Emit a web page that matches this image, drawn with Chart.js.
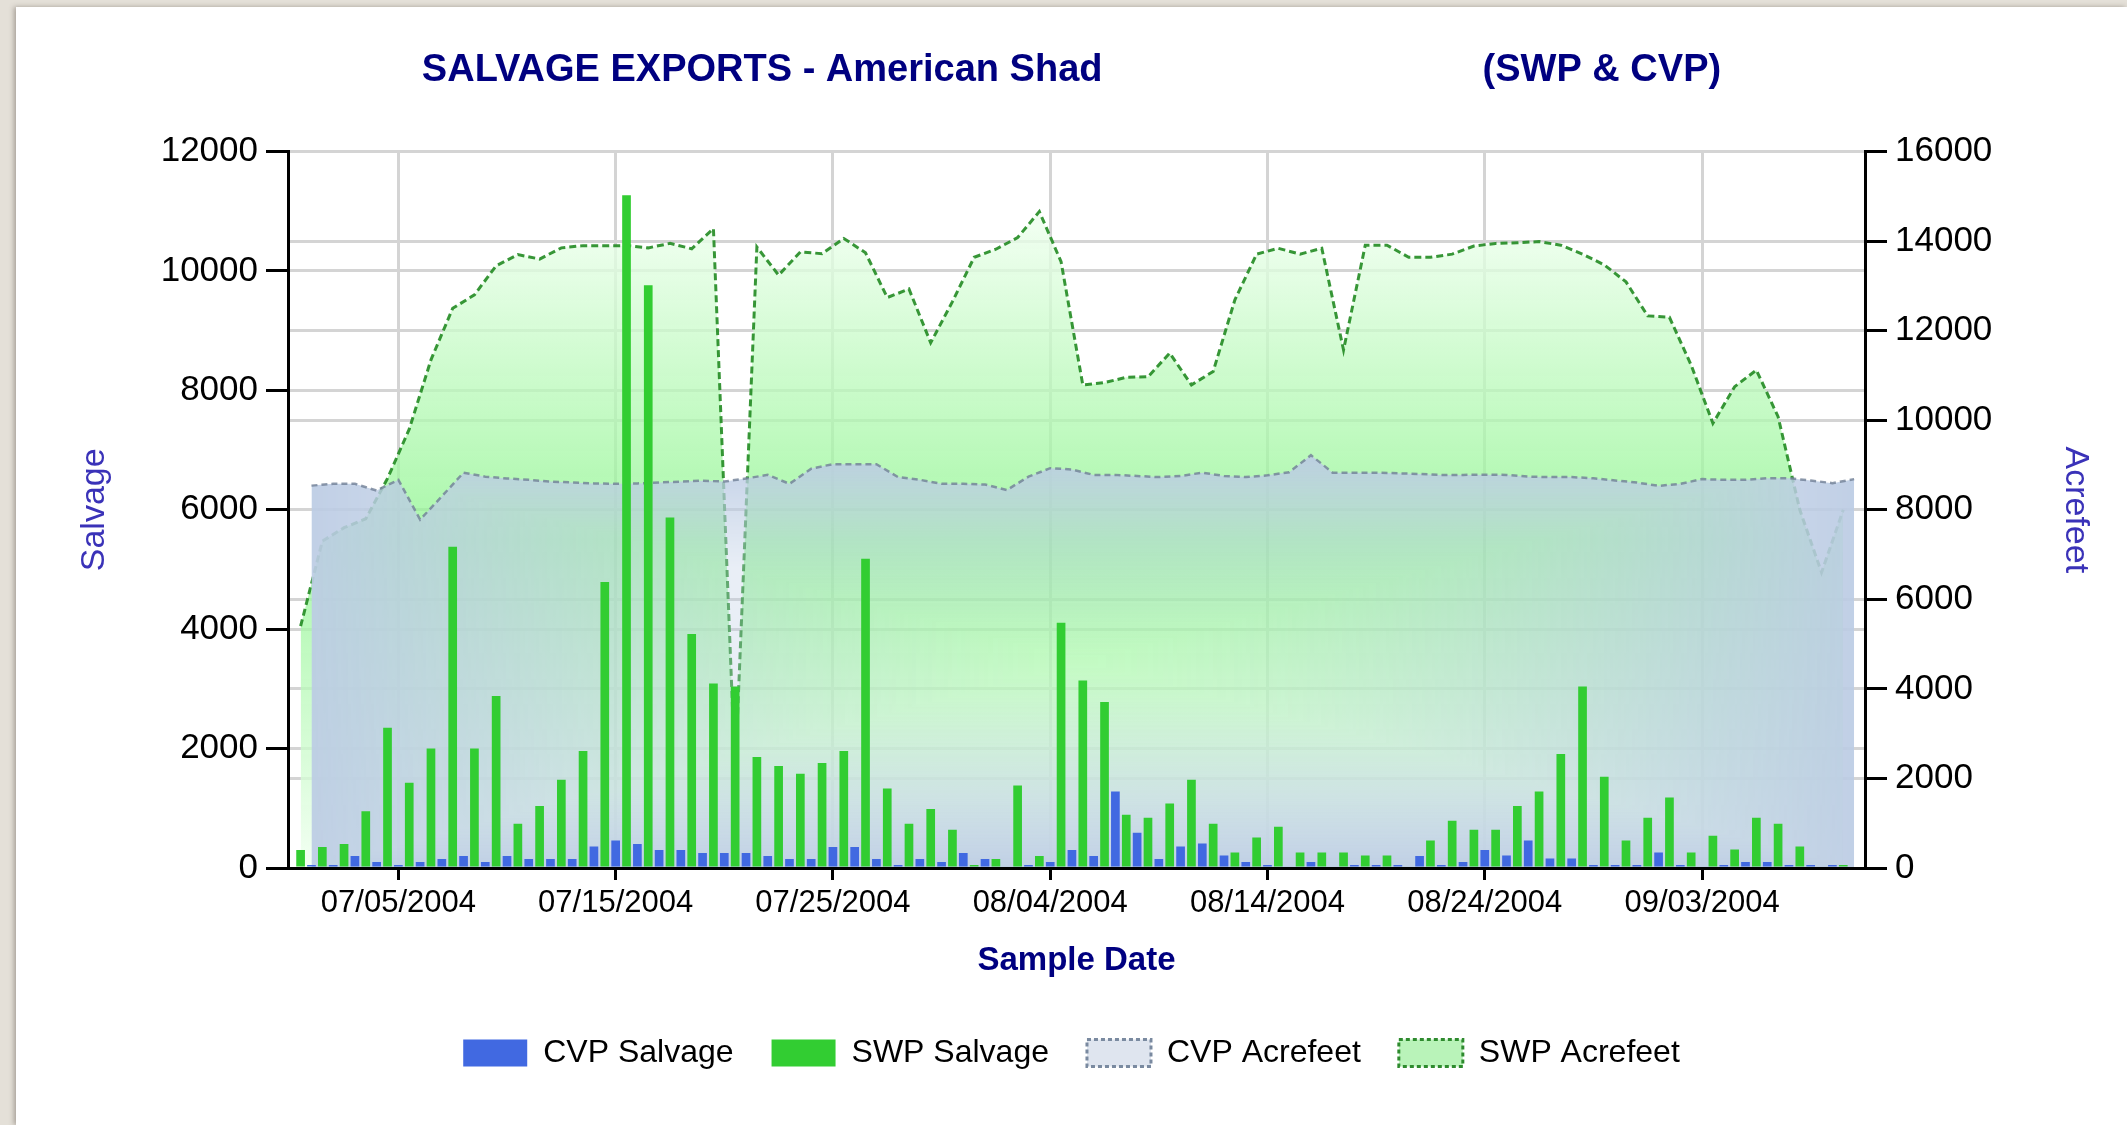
<!DOCTYPE html>
<html>
<head>
<meta charset="utf-8">
<title>Salvage Exports - American Shad</title>
<script src="https://cdn.jsdelivr.net/npm/chart.js@4.4.1/dist/chart.umd.min.js"></script>
<style>
  html, body { margin: 0; padding: 0; }
  body { width: 2127px; height: 1125px; background: #e4e0d8; position: relative; overflow: hidden; }
  #panel { position: absolute; left: 16px; top: 7px; width: 2111px; height: 1118px; background: #fff;
           box-shadow: -2px 0 5px rgba(90, 80, 70, 0.45); }
  canvas { display: block; }
</style>
</head>
<body>
<div id="panel"><canvas id="chart" width="2111" height="1118"></canvas></div>
<script>
// daily samples, index 0 = 07/01/2004 ... index 71 = 09/10/2004
var xTickIndex = [4, 14, 24, 34, 44, 54, 64];
var xTickLabels = ['07/05/2004', '07/15/2004', '07/25/2004', '08/04/2004', '08/14/2004', '08/24/2004', '09/03/2004'];

var cvpSalvage = [50, 50, 200, 100, 50, 100, 150, 200, 100, 200,
                  150, 150, 150, 360, 460, 400, 300, 300, 250, 250,
                  250, 200, 150, 150, 350, 350, 150, 50, 150, 100,
                  250, 150, 0, 50, 100, 300, 200, 1280, 590, 150,
                  360, 410, 210, 100, 50, 0, 100, 0, 50, 50,
                  50, 200, 50, 100, 300, 210, 460, 160, 160, 50,
                  50, 50, 260, 50, 0, 50, 100, 100, 50, 50,
                  50, 0];
var swpSalvage = [300, 350, 400, 950, 2350, 1430, 2000, 5380, 2000, 2880,
                  740, 1040, 1480, 1960, 4790, 11270, 9760, 5870, 3920, 3090,
                  3040, 1860, 1710, 1580, 1760, 1960, 5180, 1330, 740, 990,
                  640, 50, 150, 1380, 200, 4110, 3140, 2780, 890, 840,
                  1080, 1480, 740, 260, 510, 690, 260, 260, 260, 210,
                  210, 0, 460, 790, 640, 640, 1040, 1280, 1910, 3040,
                  1530, 460, 840, 1180, 260, 540, 310, 840, 740, 360,
                  0, 50];
var cvpAcrefeet = [8540, 8580, 8580, 8430, 8670, 7780, 8300, 8830, 8740, 8700,
                   8670, 8630, 8610, 8590, 8580, 8590, 8610, 8630, 8650, 8630,
                   8700, 8780, 8580, 8920, 9020, 9020, 9020, 8730, 8670, 8580,
                   8580, 8565, 8440, 8740, 8930, 8900, 8780, 8780, 8755, 8730,
                   8755, 8830, 8755, 8730, 8770, 8840, 9220, 8830, 8830, 8830,
                   8815, 8800, 8780, 8780, 8785, 8780, 8740, 8730, 8730, 8705,
                   8655, 8610, 8535, 8580, 8685, 8670, 8670, 8705, 8705, 8655,
                   8595, 8685];
var swpAcrefeet = [5400, 7300, 7600, 7800, 8700, 9800, 11350, 12500, 12800, 13450,
                   13700, 13600, 13850, 13900, 13900, 13900, 13850, 13950, 13830, 14280,
                   2100, 13870, 13240, 13760, 13720, 14060, 13740, 12740, 12930, 11730,
                   12650, 13640, 13820, 14080, 14660, 13540, 10790, 10840, 10960, 10970,
                   11500, 10790, 11090, 12690, 13710, 13840, 13710, 13840, 11570, 13910,
                   13910, 13640, 13640, 13710, 13890, 13950, 13965, 13990, 13910, 13710,
                   13470, 13090, 12330, 12300, 11230, 9930, 10750, 11120, 10080, 8000,
                   6600, 8000];
// SWP samples are plotted half a day ahead of the CVP ones
var swpShift = -0.5;

var titleLeft = 'SALVAGE EXPORTS - American Shad';
var titleRight = '(SWP & CVP)';

var FONT = "'Liberation Sans', Arial, sans-serif";
Chart.defaults.font.family = FONT;
Chart.defaults.color = '#000';

function toPoints(values, shift) {
  return values.map(function (v, i) { return { x: i + shift, y: v }; });
}

// CVP area: rectangular "center" gradient, clear in the middle, steel blue at the edges
var cvpCache = {};
function cvpFill(context) {
  var chart = context.chart;
  if (!chart.chartArea) return 'rgba(188,204,228,0.6)';
  var xs = chart.scales.x, ys = chart.scales.y1;
  var x0 = xs.getPixelForValue(0), x1 = xs.getPixelForValue(cvpAcrefeet.length - 1);
  var y0 = ys.getPixelForValue(Math.max.apply(null, cvpAcrefeet)), y1 = ys.getPixelForValue(0);
  var w = chart.width, h = chart.height;
  var key = [x0, x1, y0, y1, w, h].join(',');
  if (cvpCache.key === key) return cvpCache.pattern;
  var off = document.createElement('canvas');
  off.width = w; off.height = h;
  var octx = off.getContext('2d');
  var img = octx.createImageData(w, h);
  var d = img.data;
  var cx = (x0 + x1) / 2, cy = (y0 + y1) / 2, rx = (x1 - x0) / 2, ry = (y1 - y0) / 2;
  for (var y = 0; y < h; y++) {
    var ty = Math.abs(y + 0.5 - cy) / ry;
    for (var x = 0; x < w; x++) {
      var t = Math.max(Math.abs(x + 0.5 - cx) / rx, ty);
      if (t > 1) t = 1;
      var k = (y * w + x) * 4;
      d[k] = 188; d[k + 1] = 204; d[k + 2] = 228;
      d[k + 3] = Math.round(255 * 0.93 * Math.pow(t, 1.3));
    }
  }
  octx.putImageData(img, 0, 0);
  cvpCache = { key: key, pattern: chart.ctx.createPattern(off, 'no-repeat') };
  return cvpCache.pattern;
}

// SWP area: horizontal-center gradient, green in the middle, pale at top and bottom
var swpCache = {};
function swpFill(context) {
  var chart = context.chart;
  if (!chart.chartArea) return 'rgba(150,245,150,0.7)';
  var ys = chart.scales.y1;
  var top = ys.getPixelForValue(Math.max.apply(null, swpAcrefeet)), bottom = ys.getPixelForValue(0);
  var key = top + ',' + bottom;
  if (swpCache.key === key) return swpCache.g;
  var g = chart.ctx.createLinearGradient(0, top, 0, bottom);
  g.addColorStop(0, 'rgba(240,255,240,0.8)');
  g.addColorStop(0.5, 'rgba(140,245,140,0.75)');
  g.addColorStop(1, 'rgba(240,255,240,0.8)');
  swpCache = { key: key, g: g };
  return g;
}

var legendStyles = {
  'CVP Salvage': { fill: '#4169e1', stroke: '#4169e1', width: 0, dash: [] },
  'SWP Salvage': { fill: '#32cd32', stroke: '#32cd32', width: 0, dash: [] },
  'CVP Acrefeet': { fill: '#dfe5ef', stroke: '#7a8aa0', width: 3, dash: [4, 3] },
  'SWP Acrefeet': { fill: '#b9f3b9', stroke: '#2e8b2e', width: 3, dash: [4, 3] }
};

function plainNumber(v) { return String(v); }

new Chart(document.getElementById('chart'), {
  type: 'bar',
  data: {
    datasets: [
      { type: 'bar', label: 'CVP Salvage', data: toPoints(cvpSalvage, 0), yAxisID: 'y', order: 0,
        backgroundColor: '#4169e1', grouped: false, categoryPercentage: 1, barPercentage: 0.8 },
      { type: 'bar', label: 'SWP Salvage', data: toPoints(swpSalvage, swpShift), yAxisID: 'y', order: 1,
        backgroundColor: '#32cd32', grouped: false, categoryPercentage: 1, barPercentage: 0.8 },
      { type: 'line', label: 'CVP Acrefeet', data: toPoints(cvpAcrefeet, 0), yAxisID: 'y1', order: 2,
        fill: 'origin', backgroundColor: cvpFill, borderColor: 'rgba(112,128,150,0.8)',
        borderWidth: 2.5, borderDash: [6, 4], pointRadius: 0, tension: 0 },
      { type: 'line', label: 'SWP Acrefeet', data: toPoints(swpAcrefeet, swpShift), yAxisID: 'y1', order: 3,
        fill: 'origin', backgroundColor: swpFill, borderColor: 'rgba(34,139,34,0.9)',
        borderWidth: 3, borderDash: [7, 4], pointRadius: 0, tension: 0 }
    ]
  },
  options: {
    responsive: false,
    animation: false,
    events: [],
    layout: { padding: { left: 0, right: 0, top: 0, bottom: 46 } },
    plugins: {
      tooltip: { enabled: false },
      title: {
        display: true,
        text: titleLeft + new Array(37).join(' ') + titleRight,
        color: '#000080',
        font: { size: 38, weight: 'bold' },
        padding: { top: 41, bottom: 58 }
      },
      legend: {
        position: 'bottom',
        labels: {
          font: { size: 32 }, color: '#000', boxWidth: 64, boxHeight: 27, padding: 38,
          generateLabels: function (chart) {
            var items = Chart.defaults.plugins.legend.labels.generateLabels(chart);
            items.forEach(function (it) {
              var s = legendStyles[it.text];
              it.fillStyle = s.fill; it.strokeStyle = s.stroke; it.lineWidth = s.width; it.lineDash = s.dash;
            });
            return items;
          }
        }
      }
    },
    scales: {
      x: {
        type: 'linear', min: -1.08, max: 71.5, offset: false,
        afterBuildTicks: function (s) { s.ticks = xTickIndex.map(function (v) { return { value: v }; }); },
        afterFit: function (s) { s.height = 131; },
        grid: { offset: false, color: '#d4d4d4', lineWidth: 3, tickColor: '#000', tickLength: 12, tickWidth: 3 },
        border: { color: '#000', width: 3, z: 1 },
        ticks: {
          font: { size: 31 }, color: '#000', padding: 5, maxRotation: 0, autoSkip: false,
          callback: function (v) { return xTickLabels[xTickIndex.indexOf(v)]; }
        },
        title: { display: true, text: 'Sample Date', color: '#000080', font: { size: 33, weight: 'bold' },
                 padding: { top: 0, bottom: 18 } }
      },
      y: {
        position: 'left', min: 0, max: 12000,
        afterFit: function (s) { s.width = 272; },
        grid: { color: '#d4d4d4', lineWidth: 3, tickColor: '#000', tickLength: 22, tickWidth: 3 },
        border: { color: '#000', width: 3, z: 1 },
        ticks: { stepSize: 2000, font: { size: 35 }, color: '#000', padding: 8, callback: plainNumber },
        title: { display: true, text: 'Salvage', color: '#3a32b8', font: { size: 34 },
                 padding: { top: 58.6, bottom: 0 } }
      },
      y1: {
        position: 'right', min: 0, max: 16000,
        afterFit: function (s) { s.width = 262; },
        grid: { color: '#d4d4d4', lineWidth: 3, tickColor: '#000', tickLength: 22, tickWidth: 3 },
        border: { color: '#000', width: 3, z: 1 },
        ticks: { stepSize: 2000, font: { size: 35 }, color: '#000', padding: 8, callback: plainNumber },
        title: { display: true, text: 'Acrefeet', color: '#3a32b8', font: { size: 34 },
                 padding: { top: 31.6, bottom: 0 } }
      }
    }
  }
});
</script>
</body>
</html>
